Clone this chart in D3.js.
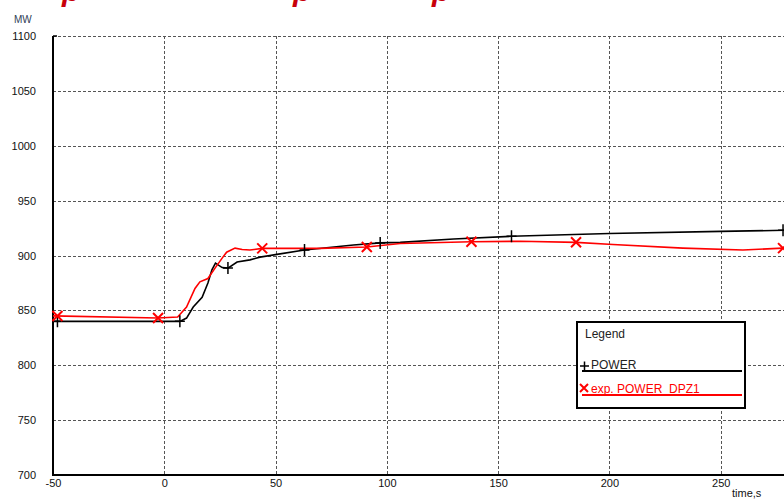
<!DOCTYPE html>
<html>
<head>
<meta charset="utf-8">
<script src="https://cdnjs.cloudflare.com/ajax/libs/d3/7.8.5/d3.min.js"></script>
<style>
  body { margin: 0; background: #fff; }
  svg { display: block; font-family: "Liberation Sans", Arial, sans-serif; }
</style>
</head>
<body>
<div id="chart"></div>
<script>
// time, s / power, MW
const powerT = [-50, 7, 10, 13, 17, 19.6, 21.4, 23, 26, 28.6, 32.7, 38.5, 43, 50.6, 63, 85, 97, 106, 130, 156, 200, 250, 280, 300];
const powerV = [840, 840, 843, 853, 862, 875, 887, 893, 889, 888.5, 894, 896, 898.5, 901, 905, 909.5, 911.5, 912, 915, 917.5, 920, 922, 923, 924];
const expT = [-50, -3, 6, 10, 13.8, 16, 19.6, 22.8, 26, 28, 31.8, 35, 38.5, 44, 50.6, 70, 91, 106, 138, 160, 185, 201.6, 233, 260, 278, 300];
const expV = [845, 843, 844, 853, 870, 876, 879, 888.5, 897.6, 903, 906.7, 905.5, 905, 906.5, 906.5, 906.5, 907.7, 911, 912.5, 913, 912, 910, 906.7, 905, 906.7, 906];
const powerMarks = [-48, 7, 28.6, 63, 97, 156, 278];
const expMarks = [-48, -2.8, 44, 91, 138, 185, 278];
const xTicks = [-50, 0, 50, 100, 150, 200, 250];
const yTicks = [700, 750, 800, 850, 900, 950, 1000, 1050, 1100];
const seriesNames = ["POWER", "exp. POWER_DPZ1"];

const W = 784, H = 500;
const svg = d3.select("#chart").append("svg").attr("width", W).attr("height", H);

const x = d3.scaleLinear().domain([-50, 300]).range([53, 832]);
const y = d3.scaleLinear().domain([700, 1100]).range([475, 36]);

// red title, cut off at the top edge like in the picture
svg.append("g").selectAll("text")
  .data(["p", "p", "p"])
  .join("text")
    .attr("x", (d, i) => [62, 293, 432][i])
    .attr("y", 1)
    .attr("fill", "#c8000a")
    .attr("font-size", 30)
    .attr("font-weight", "bold")
    .attr("font-style", "italic")
    .text(d => d);

// grid
const grid = svg.append("g").attr("stroke", "#555").attr("stroke-dasharray", "3,2").attr("stroke-width", 1);
grid.selectAll(".gx").data(xTicks.slice(1)).join("line")
  .attr("x1", d => Math.round(x(d)) + 0.5).attr("x2", d => Math.round(x(d)) + 0.5)
  .attr("y1", y(1100)).attr("y2", y(700));
grid.selectAll(".gy").data(yTicks.slice(1)).join("line")
  .attr("y1", d => Math.round(y(d)) + 0.5).attr("y2", d => Math.round(y(d)) + 0.5)
  .attr("x1", x(-50)).attr("x2", W);

// axes
const fmt = d => String(d);
const xAxis = d3.axisBottom(x).tickValues(xTicks).tickFormat(fmt).tickSize(0).tickPadding(4);
const gx = svg.append("g").attr("transform", `translate(0,${y(700)})`).call(xAxis);
gx.select(".domain").remove();
gx.selectAll("text").attr("font-size", 11).attr("fill", "#111").attr("font-family", "Liberation Sans, Arial");

const yAxis = d3.axisLeft(y).tickValues(yTicks).tickFormat(fmt).tickSize(0).tickPadding(17);
const gy = svg.append("g").attr("transform", `translate(${x(-50)},0)`).call(yAxis);
gy.select(".domain").remove();
gy.selectAll("text").attr("font-size", 11).attr("fill", "#111").attr("font-family", "Liberation Sans, Arial");

svg.append("line").attr("x1", x(-50)).attr("x2", x(-50)).attr("y1", y(1100)).attr("y2", y(700) + 1)
  .attr("stroke", "#000").attr("stroke-width", 2);
svg.append("line").attr("x1", x(-50) - 1).attr("x2", W).attr("y1", y(700)).attr("y2", y(700))
  .attr("stroke", "#000").attr("stroke-width", 2);
svg.append("line").attr("x1", x(-50)).attr("x2", x(-50) + 4).attr("y1", y(1100)).attr("y2", y(1100))
  .attr("stroke", "#000").attr("stroke-width", 1.5);

svg.append("text").attr("x", 14).attr("y", 23).attr("font-size", 10).attr("fill", "#2f3e55").text("MW");
svg.append("text").attr("x", 732).attr("y", 497).attr("font-size", 11).attr("fill", "#111").text("time,s");

// series
const line = d3.line().x(d => x(d[0])).y(d => y(d[1]));
const powerData = d3.zip(powerT, powerV);
const expData = d3.zip(expT, expV);
const interp = (ts, vs, t) => {
  const i = Math.max(1, d3.bisectLeft(ts, t));
  const f = (t - ts[i - 1]) / (ts[i] - ts[i - 1]);
  return vs[i - 1] + f * (vs[i] - vs[i - 1]);
};

svg.append("path").datum(powerData).attr("d", line)
  .attr("fill", "none").attr("stroke", "#000").attr("stroke-width", 1.6);
svg.append("path").datum(expData).attr("d", line)
  .attr("fill", "none").attr("stroke", "#f00").attr("stroke-width", 1.6);

svg.append("g").selectAll("path").data(powerMarks).join("path")
  .attr("transform", d => `translate(${x(d)},${y(interp(powerT, powerV, d))})`)
  .attr("d", "M-5,0H5M0,-6V6").attr("stroke", "#000").attr("stroke-width", 1.5);
svg.append("g").selectAll("path").data(expMarks).join("path")
  .attr("transform", d => `translate(${x(d)},${y(interp(expT, expV, d))})`)
  .attr("d", "M-5,-5L5,5M-5,5L5,-5").attr("stroke", "#f00").attr("stroke-width", 2);

// legend
const lg = svg.append("g");
lg.append("rect").attr("x", 577).attr("y", 322).attr("width", 168).attr("height", 86)
  .attr("fill", "#fff").attr("stroke", "#000").attr("stroke-width", 2);
lg.append("text").attr("x", 585).attr("y", 338).attr("font-size", 12).attr("fill", "#222").text("Legend");
const items = lg.selectAll(".item").data(seriesNames).join("g")
  .attr("transform", (d, i) => `translate(0,${i * 24})`);
items.append("path")
  .attr("d", (d, i) => i === 0 ? "M580,366H589M584.5,361.5V370.5" : "M580,384L588,392M580,392L588,384")
  .attr("stroke", (d, i) => i === 0 ? "#000" : "#f00").attr("stroke-width", (d, i) => i === 0 ? 1.5 : 2)
  .attr("transform", (d, i) => `translate(0,${-i * 24})`);
items.append("text").attr("x", 591).attr("y", 369).attr("font-size", 12)
  .attr("fill", (d, i) => i === 0 ? "#222" : "#f00").text(d => d);
items.append("line").attr("x1", 582).attr("x2", 742).attr("y1", 371).attr("y2", 371)
  .attr("stroke", (d, i) => i === 0 ? "#000" : "#f00").attr("stroke-width", 2);
</script>
</body>
</html>
